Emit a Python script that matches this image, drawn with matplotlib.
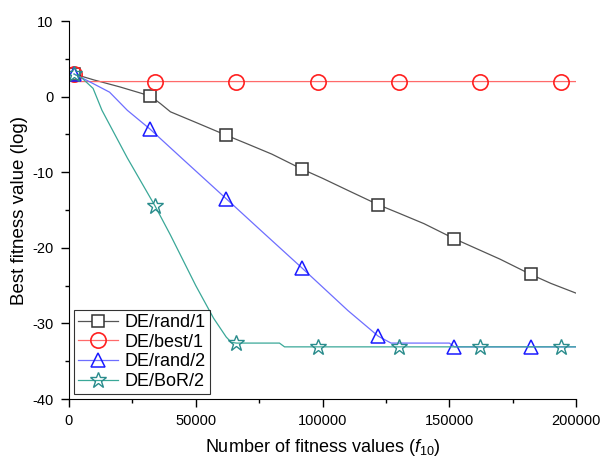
import matplotlib
matplotlib.use('Agg')
import matplotlib.pyplot as plt
from matplotlib.ticker import MultipleLocator

plt.rcParams['font.family'] = ['Liberation Sans', 'DejaVu Sans']
plt.rcParams['mathtext.fontset'] = 'custom'
plt.rcParams['mathtext.rm'] = 'Liberation Sans'
plt.rcParams['mathtext.it'] = 'Liberation Sans:italic'
plt.rcParams['axes.unicode_minus'] = False

# DE/rand/1
x_rand1 = [2000, 10000, 20000, 32000, 36000, 40000, 50000, 62000, 70000, 80000, 92000,
           100000, 110000, 122000, 130000, 140000, 152000, 160000, 170000, 182000, 190000, 200000]
y_rand1 = [3, 2.2, 1.3, 0.1, -0.9, -2.0, -3.4, -5.1, -6.2, -7.6, -9.6,
           -10.8, -12.4, -14.3, -15.4, -16.8, -18.8, -20.0, -21.5, -23.5, -24.7, -26.0]
mk_rand1 = [0, 3, 7, 10, 13, 16, 19]

# DE/best/1
x_best1 = [0, 2000, 34000, 66000, 98000, 130000, 162000, 194000, 200000]
y_best1 = [2.1, 2, 2, 2, 2, 2, 2, 2, 2]
mk_best1 = [2, 3, 4, 5, 6, 7]
x_best1_start = [2000]
y_best1_start = [3]

# DE/rand/2
x_rand2 = [2000, 8000, 16000, 23000, 32000, 45000, 62000, 75000, 92000, 110000, 122000, 127000,
           150000, 152000, 182000, 200000]
y_rand2 = [3, 2.0, 0.6, -1.8, -4.3, -8.3, -13.5, -17.5, -22.7, -28.3, -31.7, -32.6,
           -32.6, -33.1, -33.1, -33.1]
mk_rand2 = [0, 4, 6, 8, 10, 13, 14]

# DE/BoR/2
x_bor2 = [2000, 5000, 9500, 13000, 23000, 34000, 40000, 50000, 57000, 62000, 64000, 66000,
          83000, 85000, 98000, 130000, 162000, 194000, 200000]
y_bor2 = [3, 2.5, 1.1, -1.8, -8.1, -14.5, -18.3, -25.0, -29.3, -31.8, -32.5, -32.6,
          -32.6, -33.1, -33.1, -33.1, -33.1, -33.1, -33.1]
mk_bor2 = [0, 5, 11, 14, 15, 16, 17]

fig = plt.figure(figsize=(6.02, 4.59), dpi=100)
ax = fig.add_axes([0.1146, 0.1307, 0.8425, 0.8233])

ax.plot(x_rand1, y_rand1, color='#555555', lw=0.9, marker='s', markevery=mk_rand1,
        ms=8, mfc='white', mec='#333333', mew=1.1, label='DE/rand/1')
ax.plot(x_best1, y_best1, color='#ff6a6a', lw=0.9, marker='o', markevery=mk_best1,
        ms=11, mfc='none', mec='#ff2020', mew=1.2, label='DE/best/1')
ax.plot(x_best1_start, y_best1_start, ls='none', marker='o',
        ms=11, mfc='none', mec='#ff2020', mew=1.2)
ax.plot(x_rand2, y_rand2, color='#6e6eff', lw=0.9, marker='^', markevery=mk_rand2,
        ms=10, mfc='none', mec='#1a1aff', mew=1.1, label='DE/rand/2')
ax.plot(x_bor2, y_bor2, color='#3aa898', lw=0.9, marker='*', markevery=mk_bor2,
        ms=12, mfc='none', mec='#2a8c8c', mew=1.0, label='DE/BoR/2')

ax.set_xlim(0, 200000)
ax.set_ylim(-40, 10)
ax.xaxis.set_major_locator(MultipleLocator(50000))
ax.xaxis.set_minor_locator(MultipleLocator(25000))
ax.yaxis.set_major_locator(MultipleLocator(10))
ax.yaxis.set_minor_locator(MultipleLocator(5))
ax.spines['top'].set_visible(False)
ax.spines['right'].set_visible(False)
ax.tick_params(which='major', direction='out', length=6, width=1, labelsize=10.5, pad=5)
ax.tick_params(which='minor', direction='out', length=3, width=1)

ax.set_xlabel('Number of fitness values ($f_{10}$)', fontsize=13, labelpad=6)
ax.set_ylabel('Best fitness value (log)', fontsize=13.5, labelpad=3)

leg = ax.legend(loc='lower left', fontsize=13, frameon=True, fancybox=False,
                edgecolor='black', handlelength=2.2, borderpad=0.2, labelspacing=0.15,
                handletextpad=0.4, borderaxespad=0.3)
leg.get_frame().set_linewidth(0.8)

fig.savefig('out.png', dpi=100)
